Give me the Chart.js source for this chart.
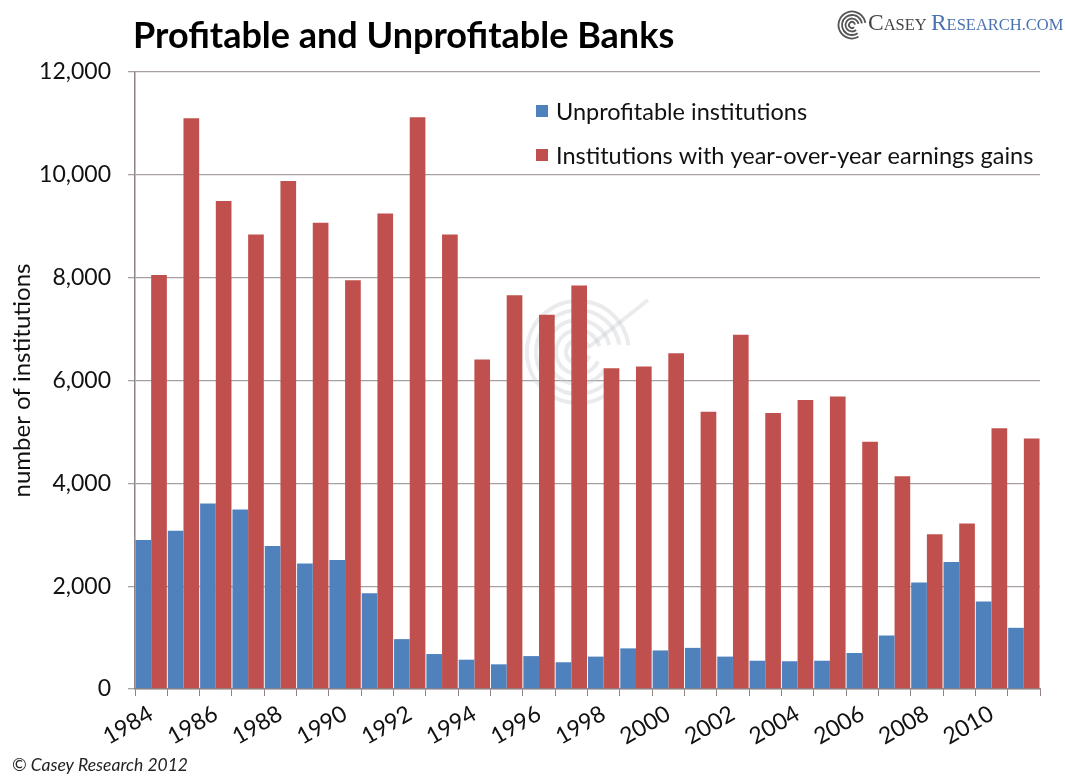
<!DOCTYPE html>
<html>
<head>
<meta charset="utf-8">
<script src="https://cdn.jsdelivr.net/npm/chart.js@4.4.1/dist/chart.umd.min.js"></script>
<style>
  html, body { margin: 0; padding: 0; background: #fff; }
  #wrap { width: 1065px; height: 776px; position: relative; }
</style>
</head>
<body>
<div id="wrap"><canvas id="c" width="1065" height="776"></canvas></div>
<script>
// Years covered by the bank counts
const years = ['1984','1985','1986','1987','1988','1989','1990','1991','1992','1993',
  '1994','1995','1996','1997','1998','1999','2000','2001','2002','2003',
  '2004','2005','2006','2007','2008','2009','2010','2011'];

// Number of institutions reporting a loss
const unprofitable = [2900, 3080, 3610, 3490, 2780, 2440, 2510, 1860, 970, 680,
  570, 480, 640, 520, 630, 790, 750, 800, 630, 550,
  540, 550, 700, 1040, 2070, 2470, 1700, 1190];

// Number of institutions with higher earnings than the year before
const earningsGains = [8050, 11100, 9490, 8840, 9880, 9070, 7950, 9250, 11120, 8840,
  6410, 7660, 7280, 7850, 6240, 6270, 6530, 5390, 6890, 5370,
  5620, 5690, 4810, 4140, 3010, 3220, 5070, 4870];

const yTicks = [0, 2000, 4000, 6000, 8000, 10000, 12000];

const seriesNames = ['Unprofitable institutions', 'Institutions with year-over-year earnings gains'];
const titleText = 'Profitable and Unprofitable Banks';
const yAxisTitle = 'number of institutions';
const footerText = '\u00A9 Casey Research 2012';

const BLUE = '#4f81bd';
const RED = '#c0504d';
const GRID = '#a8a0a0';
const AXIS = '#8e8484';
const FONT = 'Lato, "Open Sans", sans-serif';

// Faint swirl mark behind the bars, plus title, legend, footer and brand line
const decorations = {
  id: 'decorations',
  beforeDatasetsDraw(chart) {
    const ctx = chart.ctx;
    ctx.save();
    ctx.strokeStyle = 'rgba(200,205,210,0.4)';
    ctx.lineWidth = 4;
    const cx = 578, cy = 352;
    [12, 22, 32, 42, 51].forEach((r, i) => {
      ctx.beginPath();
      ctx.arc(cx, cy, r, Math.PI * (0.1 + i * 0.04), Math.PI * (1.9 + i * 0.015));
      ctx.stroke();
    });
    ctx.beginPath();
    ctx.moveTo(cx + 12, cy - 6);
    ctx.lineTo(cx + 70, cy - 52);
    ctx.stroke();
    ctx.restore();
  },
  afterDraw(chart) {
    const ctx = chart.ctx;
    ctx.save();
    ctx.textBaseline = 'alphabetic';
    ctx.textAlign = 'left';

    // Title
    ctx.fillStyle = '#000';
    ctx.font = 'bold 36px ' + FONT;
    ctx.fillText(titleText, 133, 48);

    // Legend
    ctx.font = '23.5px ' + FONT;
    ctx.textBaseline = 'middle';
    const lg = [[BLUE, seriesNames[0], 111], [RED, seriesNames[1], 155]];
    lg.forEach(([col, txt, y]) => {
      ctx.fillStyle = col;
      ctx.fillRect(536, y - 6, 12, 12);
      ctx.fillStyle = '#111';
      ctx.fillText(txt, 556, y + 1);
    });

    // Footer
    ctx.textBaseline = 'alphabetic';
    ctx.font = 'italic 17.5px ' + FONT;
    ctx.fillStyle = '#222';
    ctx.fillText(footerText, 12, 771);

    // Brand line, top right
    const bx = 852, by = 25;
    ctx.strokeStyle = '#555';
    ctx.lineWidth = 1.8;
    [3, 6.5, 10, 13.5].forEach((r, i) => {
      ctx.beginPath();
      ctx.arc(bx, by, r, Math.PI * (0.25 + i * 0.03), Math.PI * 1.95);
      ctx.stroke();
    });
    let x = 868;
    const base = 30;
    const parts = [
      ['C', '23.5px', '#444'], ['ASEY ', '16.5px', '#444'],
      ['R', '23.5px', '#4a72b0'], ['ESEARCH.COM', '16.5px', '#4a72b0']
    ];
    parts.forEach(([t, size, col]) => {
      ctx.font = size + ' "Liberation Serif", "DejaVu Serif", serif';
      ctx.fillStyle = col;
      ctx.fillText(t, x, base);
      x += ctx.measureText(t).width;
    });
    ctx.restore();
  }
};

new Chart(document.getElementById('c'), {
  type: 'bar',
  data: {
    labels: years,
    datasets: [
      { label: seriesNames[0], data: unprofitable, backgroundColor: BLUE,
        categoryPercentage: 0.97, barPercentage: 1.0 },
      { label: seriesNames[1], data: earningsGains, backgroundColor: RED,
        categoryPercentage: 0.97, barPercentage: 1.0 }
    ]
  },
  options: {
    responsive: false,
    animation: false,
    devicePixelRatio: 1,
    layout: { padding: { left: 0, right: 25, top: 72, bottom: 0 } },
    plugins: {
      legend: { display: false },
      title: { display: false },
      tooltip: { enabled: false }
    },
    scales: {
      x: {
        offset: true,
        grid: { offset: true, drawOnChartArea: false, drawTicks: true, tickLength: 7, color: AXIS, lineWidth: 1 },
        border: { display: true, color: AXIS, width: 1.5 },
        ticks: {
          autoSkip: false,
          maxRotation: 30, minRotation: 30,
          padding: 4,
          color: '#111',
          font: { family: FONT, size: 23 },
          callback: function (v, i) { return i % 2 === 0 ? years[i] : ''; }
        },
        afterFit(scale) { scale.height = 87; }
      },
      y: {
        min: 0, max: 12000,
        afterBuildTicks(scale) { scale.ticks = yTicks.map(v => ({ value: v })); },
        grid: { color: GRID, lineWidth: 1.3, tickLength: 7 },
        border: { display: true, color: AXIS, width: 1.5 },
        ticks: {
          padding: 17,
          color: '#111',
          font: { family: FONT, size: 23 },
          callback: v => v.toLocaleString('en-US')
        },
        title: {
          display: true, text: yAxisTitle, color: '#111',
          font: { family: FONT, size: 24 }, padding: { top: 8, bottom: 0 }
        },
        afterFit(scale) { scale.width = 135; }
      }
    }
  },
  plugins: [decorations]
});
</script>
</body>
</html>
